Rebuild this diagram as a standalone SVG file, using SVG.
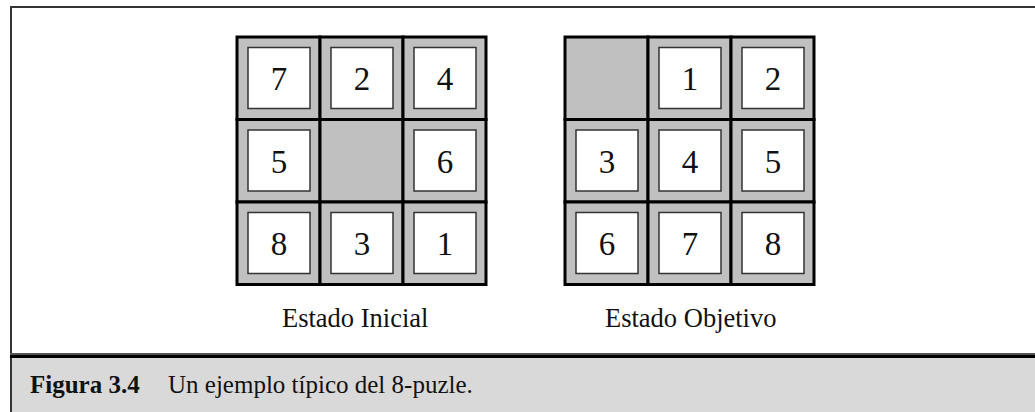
<svg xmlns="http://www.w3.org/2000/svg" width="1035" height="412" viewBox="0 0 1035 412">
  <style>
    .cell { fill: #c0c0c0; stroke: #000; stroke-width: 3; }
    .tile { fill: #fff; stroke: #333; stroke-width: 1.5; }
    .num { font-family: "Liberation Serif", "Times New Roman", serif; font-size: 33px; fill: #111; text-anchor: middle; }
    .lbl { font-family: "Liberation Serif", "Times New Roman", serif; font-size: 26.5px; fill: #111; }
    .cap { font-family: "Liberation Serif", "Times New Roman", serif; font-size: 25px; fill: #111; }
  </style>
  <rect x="0" y="0" width="1035" height="412" fill="#fff"/>
  <!-- frame -->
  <rect x="11" y="358" width="1024" height="54" fill="#d9d9d9"/>
  <line x1="10" y1="7" x2="1035" y2="7" stroke="#333" stroke-width="2"/>
  <line x1="11" y1="6" x2="11" y2="412" stroke="#333" stroke-width="2"/>
  <rect x="10" y="353" width="1025" height="2" fill="#555"/>
  <rect x="10" y="355" width="1025" height="3" fill="#000"/>

  <!-- Estado Inicial -->
  <g id="inicial">
    <rect class="cell" x="237" y="37" width="83" height="82.5"/>
    <rect class="cell" x="320" y="37" width="83" height="82.5"/>
    <rect class="cell" x="403" y="37" width="83" height="82.5"/>
    <rect class="cell" x="237" y="119.5" width="83" height="82.5"/>
    <rect class="cell" x="320" y="119.5" width="83" height="82.5"/>
    <rect class="cell" x="403" y="119.5" width="83" height="82.5"/>
    <rect class="cell" x="237" y="202" width="83" height="82.5"/>
    <rect class="cell" x="320" y="202" width="83" height="82.5"/>
    <rect class="cell" x="403" y="202" width="83" height="82.5"/>

    <rect class="tile" x="248" y="47.5" width="62" height="61"/>
    <rect class="tile" x="331" y="47.5" width="62" height="61"/>
    <rect class="tile" x="414" y="47.5" width="62" height="61"/>
    <rect class="tile" x="248" y="130" width="62" height="61"/>
    <rect class="tile" x="414" y="130" width="62" height="61"/>
    <rect class="tile" x="248" y="212.5" width="62" height="61"/>
    <rect class="tile" x="331" y="212.5" width="62" height="61"/>
    <rect class="tile" x="414" y="212.5" width="62" height="61"/>

    <text class="num" x="279" y="90">7</text>
    <text class="num" x="362" y="90">2</text>
    <text class="num" x="445" y="90">4</text>
    <text class="num" x="279" y="172.5">5</text>
    <text class="num" x="445" y="172.5">6</text>
    <text class="num" x="279" y="255">8</text>
    <text class="num" x="362" y="255">3</text>
    <text class="num" x="445" y="255">1</text>

    <text class="lbl" x="282" y="327">Estado Inicial</text>
  </g>

  <!-- Estado Objetivo -->
  <g id="objetivo">
    <rect class="cell" x="565" y="37" width="83" height="82.5"/>
    <rect class="cell" x="648" y="37" width="83" height="82.5"/>
    <rect class="cell" x="731" y="37" width="83" height="82.5"/>
    <rect class="cell" x="565" y="119.5" width="83" height="82.5"/>
    <rect class="cell" x="648" y="119.5" width="83" height="82.5"/>
    <rect class="cell" x="731" y="119.5" width="83" height="82.5"/>
    <rect class="cell" x="565" y="202" width="83" height="82.5"/>
    <rect class="cell" x="648" y="202" width="83" height="82.5"/>
    <rect class="cell" x="731" y="202" width="83" height="82.5"/>

    <rect class="tile" x="659" y="47.5" width="62" height="61"/>
    <rect class="tile" x="742" y="47.5" width="62" height="61"/>
    <rect class="tile" x="576" y="130" width="62" height="61"/>
    <rect class="tile" x="659" y="130" width="62" height="61"/>
    <rect class="tile" x="742" y="130" width="62" height="61"/>
    <rect class="tile" x="576" y="212.5" width="62" height="61"/>
    <rect class="tile" x="659" y="212.5" width="62" height="61"/>
    <rect class="tile" x="742" y="212.5" width="62" height="61"/>

    <text class="num" x="690" y="90">1</text>
    <text class="num" x="773" y="90">2</text>
    <text class="num" x="607" y="172.5">3</text>
    <text class="num" x="690" y="172.5">4</text>
    <text class="num" x="773" y="172.5">5</text>
    <text class="num" x="607" y="255">6</text>
    <text class="num" x="690" y="255">7</text>
    <text class="num" x="773" y="255">8</text>

    <text class="lbl" x="605" y="327">Estado Objetivo</text>
  </g>

  <g id="caption">
    <text class="cap" x="30" y="393" font-weight="bold">Figura 3.4</text>
    <text class="cap" x="168" y="393">Un ejemplo típico del 8-puzle.</text>
  </g>
</svg>
